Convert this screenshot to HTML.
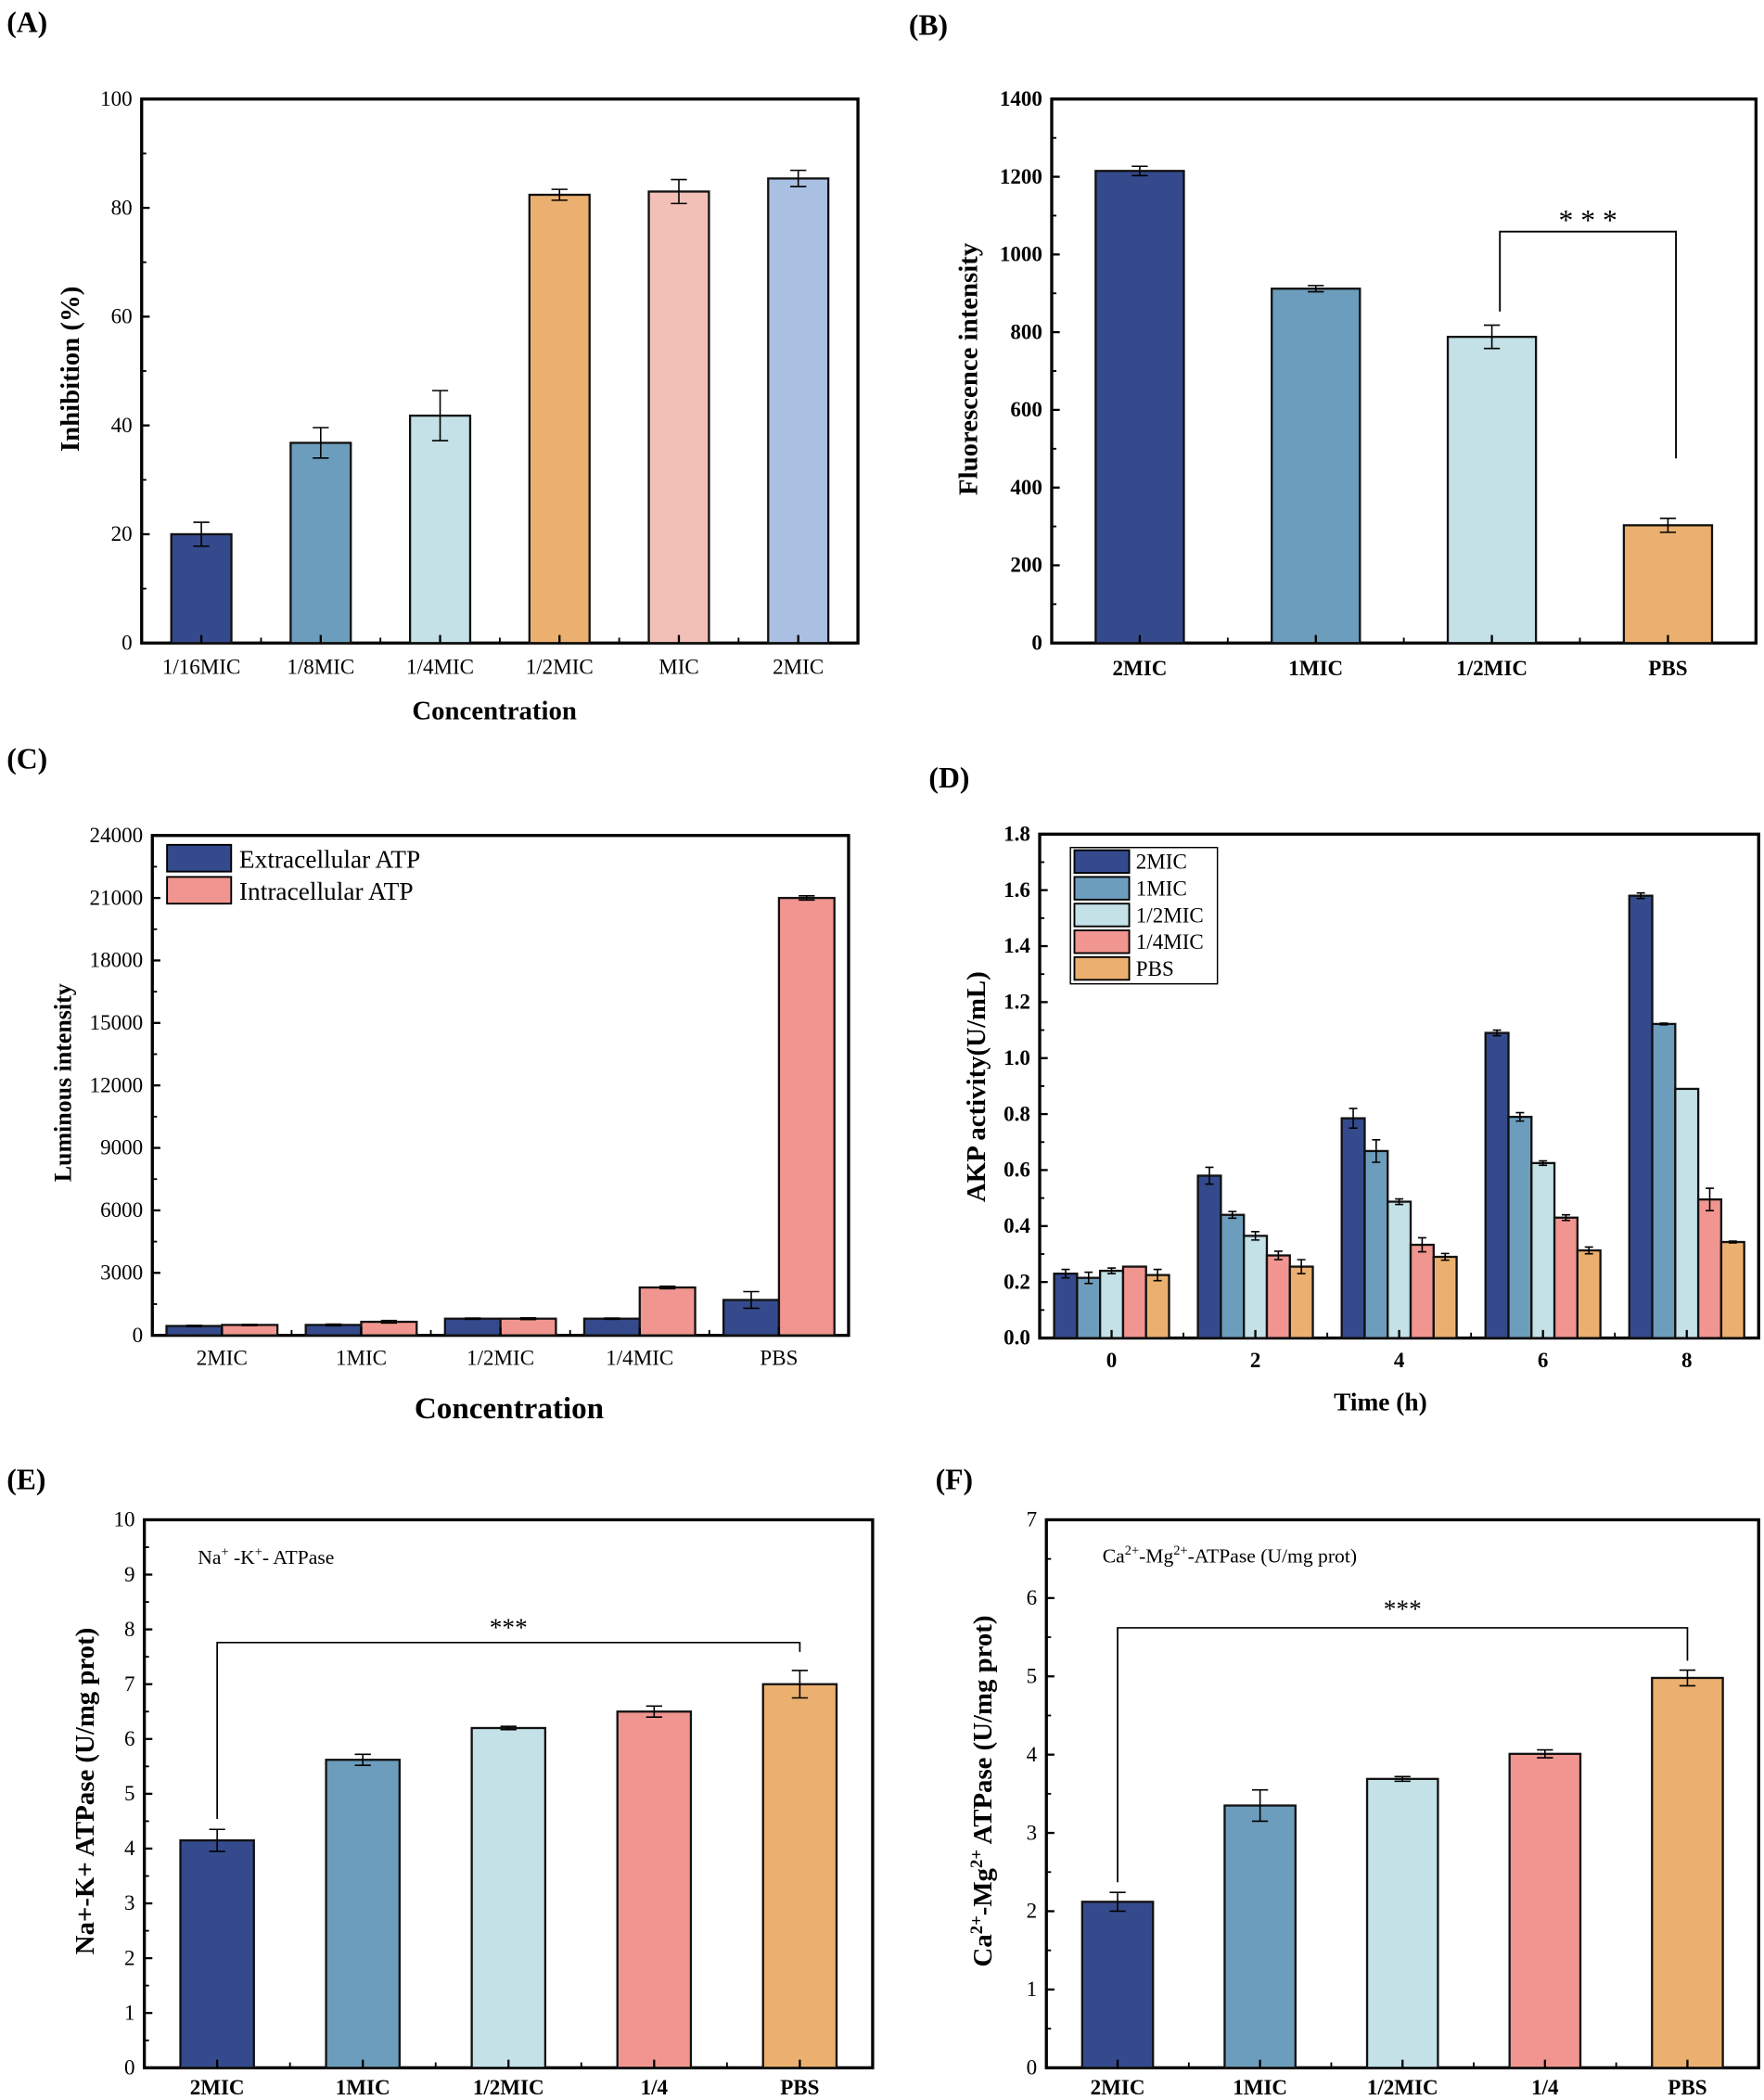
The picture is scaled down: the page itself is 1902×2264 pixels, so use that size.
<!DOCTYPE html>
<html><head><meta charset="utf-8"><style>
html,body{margin:0;padding:0;background:#fff;}
svg{display:block;font-family:"Liberation Serif",serif;}
</style></head><body>
<svg id="fig" width="1902" height="2264" viewBox="0 0 1320 1571" xmlns="http://www.w3.org/2000/svg"></svg>
<script>
// ---- Panel A data ----
const aCats = ["1/16MIC","1/8MIC","1/4MIC","1/2MIC","MIC","2MIC"];
const aVals = [20, 36.8, 41.8, 82.4, 83, 85.4];
const aErrs = [2.2, 2.8, 4.6, 1.0, 2.2, 1.5];
const aTicks = [0,20,40,60,80,100];
// ---- Panel B data ----
const bCats = ["2MIC","1MIC","1/2MIC","PBS"];
const bVals = [1215, 912, 788, 303];
const bErrs = [12, 8, 30, 18];
const bTicks = [0,200,400,600,800,1000,1200,1400];
// ---- Panel C data ----
const cCats = ["2MIC","1MIC","1/2MIC","1/4MIC","PBS"];
const cExtra = [450, 500, 800, 800, 1700];
const cExtraErr = [30, 40, 30, 30, 400];
const cIntra = [500, 650, 800, 2300, 21000];
const cIntraErr = [30, 60, 40, 60, 100];
const cTicks = [0,3000,6000,9000,12000,15000,18000,21000,24000];
const cSeries = ["Extracellular ATP","Intracellular ATP"];
// ---- Panel D data ----
const dCats = ["0","2","4","6","8"];
const dSeries = ["2MIC","1MIC","1/2MIC","1/4MIC","PBS"];
const d2MIC = [0.23, 0.58, 0.785, 1.09, 1.58];
const d1MIC = [0.215, 0.44, 0.668, 0.79, 1.122];
const dHalf = [0.24, 0.365, 0.487, 0.625, 0.89];
const dQuarter = [0.255, 0.295, 0.333, 0.43, 0.495];
const dPBS = [0.225, 0.255, 0.29, 0.313, 0.343];
const dErr2MIC = [0.015, 0.03, 0.035, 0.01, 0.01];
const dErr1MIC = [0.02, 0.012, 0.04, 0.015, 0.003];
const dErrHalf = [0.01, 0.015, 0.01, 0.008, 0.0];
const dErrQuarter = [0.0, 0.015, 0.025, 0.01, 0.04];
const dErrPBS = [0.02, 0.025, 0.012, 0.012, 0.003];
const dTicks = [0,0.2,0.4,0.6,0.8,1.0,1.2,1.4,1.6,1.8];
// ---- Panel E data ----
const eCats = ["2MIC","1MIC","1/2MIC","1/4","PBS"];
const eVals = [4.15, 5.62, 6.2, 6.5, 7.0];
const eErrs = [0.2, 0.1, 0.03, 0.1, 0.25];
const eTicks = [0,1,2,3,4,5,6,7,8,9,10];
// ---- Panel F data ----
const fCats = ["2MIC","1MIC","1/2MIC","1/4","PBS"];
const fVals = [2.12, 3.35, 3.69, 4.01, 4.98];
const fErrs = [0.12, 0.2, 0.03, 0.05, 0.1];
const fTicks = [0,1,2,3,4,5,6,7];

const NS="http://www.w3.org/2000/svg";
const svg=document.getElementById('fig');
const C={dark:"#344a8c",mid:"#6d9dbc",light:"#c3e1e6",orange:"#ebb06f",salmon:"#f2c0b6",lav:"#aac0e2",pink:"#f0958f"};
function mk(tag,at,parent){const e=document.createElementNS(NS,tag);for(const k in at)e.setAttribute(k,at[k]);(parent||svg).appendChild(e);return e;}
function txt(s,x,y,at,parent){const e=mk('text',Object.assign({x:x,y:y},at),parent);e.textContent=s;return e;}

function axes(g,box,ymax,ticks,fmt,tickBold,fs){
  const {x0,x1,y0,y1}=box;
  const ys=v=>y1-(v/ymax)*(y1-y0);
  const frame=mk('rect',{x:x0,y:y0,width:x1-x0,height:y1-y0,fill:'none',stroke:'#000','stroke-width':2.3},g);
  
  
  ticks.forEach((t,i)=>{
    const y=ys(t);
    const l=mk('line',{x1:x0,x2:x0+6,y1:y,y2:y,stroke:'#000','stroke-width':1.6},g);
    
    
    if(i<ticks.length-1){const ym=ys((t+ticks[i+1])/2);mk('line',{x1:x0,x2:x0+3.5,y1:ym,y2:ym,stroke:'#000','stroke-width':1.3},g);}
    const tl=txt(fmt(t),x0-7,y+5,{'text-anchor':'end','font-size':fs||15,'font-weight':tickBold?'bold':'normal'},g);
    
    
  });
  return ys;
}
function xcats(g,box,cats,centers,bold,fs,dy){
  cats.forEach((c,i)=>{
    const l=txt(c,centers[i],box.y1+(dy||21),{'text-anchor':'middle','font-size':fs||15,'font-weight':bold?'bold':'normal'},g);
    
    
    mk('line',{x1:centers[i],x2:centers[i],y1:box.y1,y2:box.y1-6,stroke:'#000','stroke-width':1.6},g);
    if(i<cats.length-1){const xm=(centers[i]+centers[i+1])/2;mk('line',{x1:xm,x2:xm,y1:box.y1,y2:box.y1-4,stroke:'#000','stroke-width':1.3},g);}
  });
}
function bar(g,cx,w,v,err,ys,fill,name){
  const y=ys(v),yb=ys(0);
  const r=mk('rect',{x:cx-w/2,y:y,width:w,height:yb-y,fill:fill,stroke:'#111','stroke-width':1.6},g);
  
  
  if(err>0){
    const t=ys(v+err),b=ys(v-err),cw=Math.min(w*0.18,6);
    mk('path',{d:`M${cx},${t}V${b}M${cx-cw},${t}H${cx+cw}M${cx-cw},${b}H${cx+cw}`,stroke:'#000','stroke-width':1.1,fill:'none'},g);
  }
}
function centersFor(box,n){const step=(box.x1-box.x0)/n;return Array.from({length:n},(_,i)=>box.x0+step*(i+0.5));}
function label(s,x,y){const t=txt(s,x,y,{'font-size':22,'font-weight':'bold'});}
function ylab(g,s,x,y,fs,bold){const t=txt(s,x,y,{'text-anchor':'middle','font-size':fs,'font-weight':bold?'bold':'normal',transform:`rotate(-90 ${x} ${y})`},g);return t;}
function xlab(g,s,x,y,fs){const t=txt(s,x,y,{'text-anchor':'middle','font-size':fs,'font-weight':'bold'},g);}
function group(name){const g=mk('g',{});return g;}

// Panel A
(function(){
  const g=group('panel-a-chart');label('(A)',5,24);
  const box={x0:106,x1:642,y0:74,y1:481};
  const ys=axes(g,box,100,aTicks,v=>String(v),false,16);
  const cs=centersFor(box,aCats.length);
  const cols=[C.dark,C.mid,C.light,C.orange,C.salmon,C.lav];
  aCats.forEach((c,i)=>bar(g,cs[i],45,aVals[i],aErrs[i],ys,cols[i],'bar-'+c));
  xcats(g,box,aCats,cs,false,16,23);
  ylab(g,'Inhibition (%)',59,276,20,true);
  xlab(g,'Concentration',370,538,20);
})();
// Panel B
(function(){
  const g=group('panel-b-chart');label('(B)',680,26);
  const box={x0:787,x1:1314,y0:74,y1:481};
  const ys=axes(g,box,1400,bTicks,v=>String(v),true,16);
  const cs=centersFor(box,bCats.length);
  const cols=[C.dark,C.mid,C.light,C.orange];
  bCats.forEach((c,i)=>bar(g,cs[i],66,bVals[i],bErrs[i],ys,cols[i],'bar-'+c));
  xcats(g,box,bCats,cs,true,16,24);
  const yt=ys(1059);
  mk('path',{d:`M${cs[2]+6},${ys(853)}V${yt}H${cs[3]+6}V${ys(475)}`,fill:'none',stroke:'#000','stroke-width':1.3},g);
  const s=txt('* * *',(cs[2]+cs[3])/2+6,yt-1,{'text-anchor':'middle','font-size':22},g);
  ylab(g,'Fluorescence intensity',731,276,20,true);
})();
// Panel C
(function(){
  const g=group('panel-c-chart');label('(C)',5,575);
  const box={x0:114,x1:635,y0:625,y1:999};
  const ys=axes(g,box,24000,cTicks,v=>String(v),false,16);
  const cs=centersFor(box,cCats.length);
  cCats.forEach((c,i)=>{bar(g,cs[i]-20.75,41.5,cExtra[i],cExtraErr[i],ys,C.dark,'bar-extracellular-'+c);bar(g,cs[i]+20.75,41.5,cIntra[i],cIntraErr[i],ys,C.pink,'bar-intracellular-'+c);});
  xcats(g,box,cCats,cs,false,16,22);
  [C.dark,C.pink].forEach((col,i)=>{
    const e=mk('g',{},g);
    mk('rect',{x:125,y:632+i*24,width:48,height:20,fill:col,stroke:'#000','stroke-width':1.3},e);
    txt(cSeries[i],179,649+i*24,{'font-size':19},e);
  });
  ylab(g,'Luminous intensity',53,810,18,true);
  xlab(g,'Concentration',381,1061,23);
})();
// Panel D
(function(){
  const g=group('panel-d-chart');label('(D)',695,589);
  const box={x0:778,x1:1316,y0:624,y1:1001};
  const ys=axes(g,box,1.8,dTicks,v=>v.toFixed(1),true,16);
  const cs=centersFor(box,dCats.length);
  const series=[d2MIC,d1MIC,dHalf,dQuarter,dPBS];
  const errs=[dErr2MIC,dErr1MIC,dErrHalf,dErrQuarter,dErrPBS];
  const cols=[C.dark,C.mid,C.light,C.pink,C.orange];
  dCats.forEach((c,i)=>series.forEach((s,j)=>bar(g,cs[i]+(j-2)*17.2,17.2,s[i],errs[j][i],ys,cols[j],'bar-'+dSeries[j]+'-t'+c)));
  xcats(g,box,dCats,cs,true,16,22);
  const lg=mk('rect',{x:801,y:634,width:110,height:102,fill:'#fff',stroke:'#000','stroke-width':1},g);
  
  dSeries.forEach((s,j)=>{
    const e=mk('g',{},g);
    mk('rect',{x:804,y:636+j*20,width:41,height:17,fill:cols[j],stroke:'#000','stroke-width':1.3},e);
    txt(s,850,650+j*20,{'font-size':16},e);
  });
  ylab(g,'AKP activity(U/mL)',737,813,20,true);
  xlab(g,'Time (h)',1033,1055,19);
})();
// Panel E
(function(){
  const g=group('panel-e-chart');label('(E)',5,1114);
  const box={x0:108,x1:653,y0:1137,y1:1547};
  const ys=axes(g,box,10,eTicks,v=>String(v),false,16);
  const cs=centersFor(box,eCats.length);
  const cols=[C.dark,C.mid,C.light,C.pink,C.orange];
  eCats.forEach((c,i)=>bar(g,cs[i],55,eVals[i],eErrs[i],ys,cols[i],'bar-'+c));
  xcats(g,box,eCats,cs,true,16,20);
  const yt=ys(7.76);
  mk('path',{d:`M${cs[0]},${ys(4.54)}V${yt}H${cs[4]}V${ys(7.59)}`,fill:'none',stroke:'#000','stroke-width':1.2},g);
  const s=txt('***',(cs[0]+cs[4])/2,yt-5,{'text-anchor':'middle','font-size':19},g);
  const a=mk('text',{x:148,y:1170,'font-size':15},g);
  a.innerHTML='Na<tspan dy="-6" font-size="10">+</tspan><tspan dy="6"> -K</tspan><tspan dy="-6" font-size="10">+</tspan><tspan dy="6">- ATPase</tspan>';
  ylab(g,'Na+-K+ ATPase (U/mg prot)',70,1340,20,true);
})();
// Panel F
(function(){
  const g=group('panel-f-chart');label('(F)',700,1114);
  const box={x0:783,x1:1316,y0:1137,y1:1547};
  const ys=axes(g,box,7,fTicks,v=>String(v),false,16);
  const cs=centersFor(box,fCats.length);
  const cols=[C.dark,C.mid,C.light,C.pink,C.orange];
  fCats.forEach((c,i)=>bar(g,cs[i],53,fVals[i],fErrs[i],ys,cols[i],'bar-'+c));
  xcats(g,box,fCats,cs,true,16,20);
  const yt=ys(5.62);
  mk('path',{d:`M${cs[0]},${ys(2.37)}V${yt}H${cs[4]}V${ys(5.2)}`,fill:'none',stroke:'#000','stroke-width':1.2},g);
  const s=txt('***',(cs[0]+cs[4])/2,yt-8,{'text-anchor':'middle','font-size':19},g);
  const a=mk('text',{x:825,y:1169,'font-size':15},g);
  a.innerHTML='Ca<tspan dy="-6" font-size="10">2+</tspan><tspan dy="6">-Mg</tspan><tspan dy="-6" font-size="10">2+</tspan><tspan dy="6">-ATPase (U/mg prot)</tspan>';
  const yl=mk('text',{x:742,y:1340,'text-anchor':'middle','font-size':20,'font-weight':'bold',transform:'rotate(-90 742 1340)'},g);
  
  yl.innerHTML='Ca<tspan dy="-7" font-size="13">2+</tspan><tspan dy="7">-Mg</tspan><tspan dy="-7" font-size="13">2+</tspan><tspan dy="7"> ATPase (U/mg prot)</tspan>';
})();
</script>
</body></html>
